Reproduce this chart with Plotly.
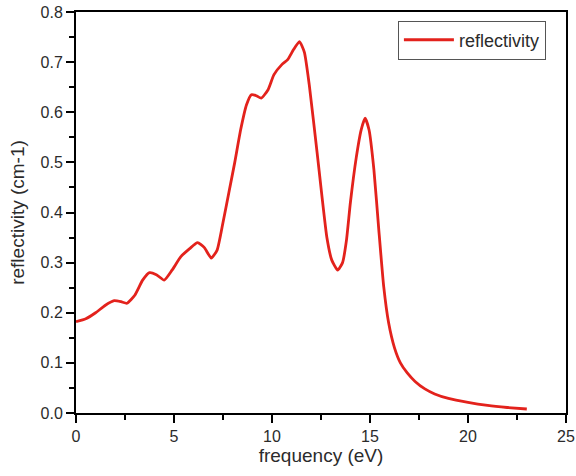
import plotly.graph_objects as go

# frequency (eV) and reflectivity
freq = [0, 0.5, 1.0, 1.5, 1.95, 2.3, 2.6, 3.0, 3.4, 3.75, 4.1, 4.5, 4.9, 5.35, 5.8,
        6.2, 6.55, 6.9, 7.2, 7.5, 7.8, 8.1, 8.4, 8.7, 8.95, 9.2, 9.45, 9.8, 10.1,
        10.5, 10.8, 11.1, 11.4, 11.65, 11.9, 12.3, 12.8, 13.05, 13.35, 13.6, 13.8,
        14.0, 14.3, 14.55, 14.75, 14.95, 15.2, 15.45, 15.7, 15.95, 16.25, 16.55,
        16.9, 17.3, 17.8, 18.3, 19.0, 20.0, 21.0, 22.0, 23.0]
refl = [0.182, 0.188, 0.200, 0.215, 0.224, 0.222, 0.219, 0.235, 0.265, 0.280, 0.276,
        0.265, 0.285, 0.312, 0.328, 0.340, 0.330, 0.309, 0.325, 0.380, 0.440, 0.500,
        0.565, 0.615, 0.635, 0.633, 0.628, 0.645, 0.675, 0.695, 0.705, 0.725, 0.741,
        0.720, 0.655, 0.520, 0.350, 0.305, 0.285, 0.300, 0.345, 0.420, 0.510, 0.565,
        0.588, 0.565, 0.485, 0.365, 0.252, 0.180, 0.130, 0.100, 0.080, 0.063, 0.048,
        0.038, 0.029, 0.021, 0.015, 0.011, 0.008]

RED = "#e3221c"
INK = "#2b2b2b"
FONT = "Liberation Sans, Arial, sans-serif"

fig = go.Figure(go.Scatter(
    x=freq, y=refl, mode="lines", name="reflectivity",
    line=dict(color=RED, width=2.8, shape="spline", smoothing=0.5),
))

axis = dict(
    showline=True, linecolor="black", linewidth=2, mirror=True,
    ticks="outside", ticklen=8, tickwidth=2, tickcolor="black",
    showgrid=False, zeroline=False, automargin=False, ticklabeloverflow="allow",
    tickfont=dict(family=FONT, size=16, color=INK),
)
minor = dict(ticks="outside", ticklen=5, tickwidth=2, tickcolor="black")
fig.update_xaxes(**axis, range=[0, 25], dtick=5, ticklabelstandoff=0,
                 minor=dict(minor, dtick=2.5),
                 title=dict(text="frequency (eV)", font=dict(family=FONT, size=19, color=INK), standoff=0))
fig.update_yaxes(**axis, range=[0, 0.8], dtick=0.1, tickformat=".1f",
                 minor=dict(minor, dtick=0.05),
                 title=dict(text="reflectivity (cm-1)", font=dict(family=FONT, size=19, color=INK), standoff=11))

fig.update_layout(
    width=576, height=476,
    margin=dict(l=76, r=10, t=12, b=63),
    plot_bgcolor="white", paper_bgcolor="white",
    showlegend=True,
    legend=dict(x=0.959, y=0.93, xanchor="right", yanchor="middle",
                bordercolor="#555", borderwidth=1, bgcolor="white", itemwidth=50,
                font=dict(family=FONT, size=18, color=INK)),
)
# drop the browser's default 8px body margin so the figure fills the window
fig.write_html("out.html", config={"displayModeBar": False},
               post_script="document.body.style.margin='0';")
